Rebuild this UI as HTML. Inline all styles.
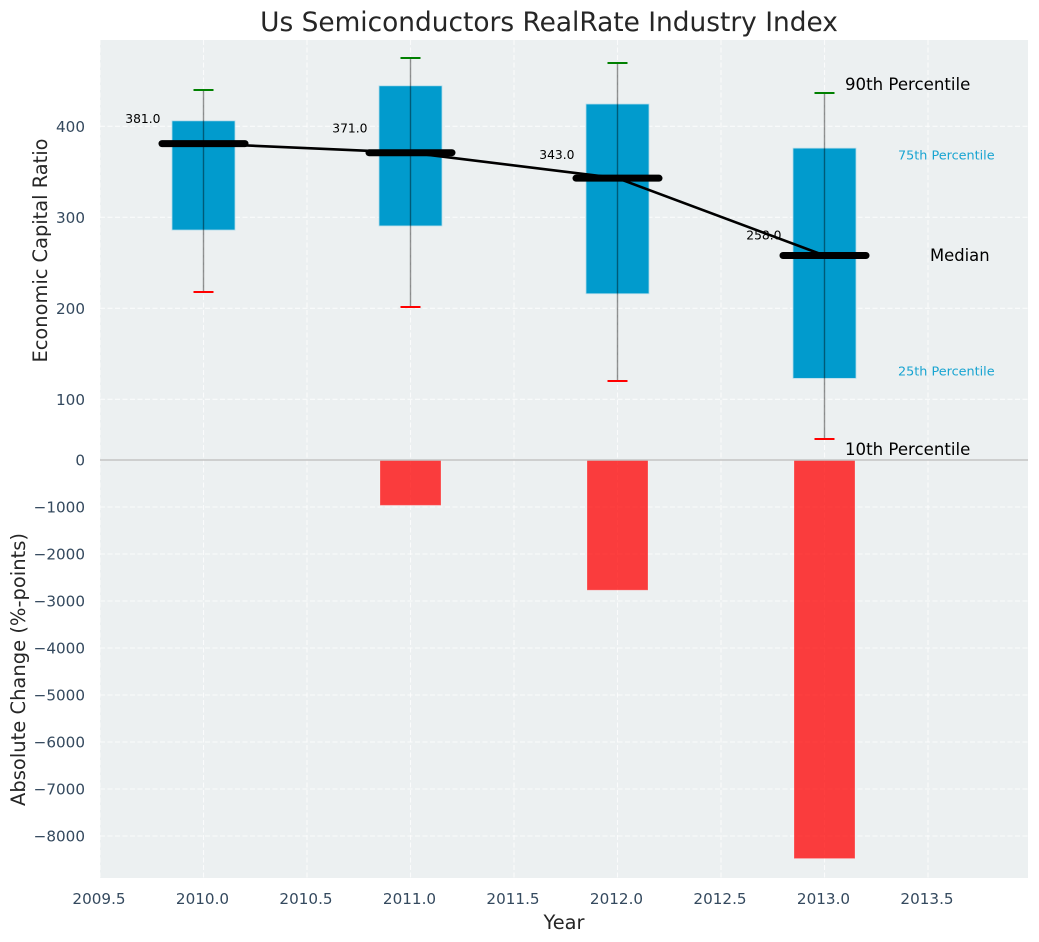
<!DOCTYPE html>
<html>
<head>
<meta charset="utf-8">
<title>Us Semiconductors RealRate Industry Index</title>
<style>
html,body{margin:0;padding:0;background:#fff;width:1039px;height:942px;overflow:hidden}
svg{display:block;font-family:"DejaVu Sans","Liberation Sans",sans-serif}
</style>
</head>
<body>
<svg id="chart" xmlns="http://www.w3.org/2000/svg" width="1039" height="942" viewBox="0 0 1039 942"></svg>
<script>
const years = [2010, 2011, 2012, 2013];
const p90 = [440, 475, 470, 436.5];
const q3 = [406, 444.5, 424.5, 376];
const median = [381, 371, 343, 258];
const q1 = [286, 290.5, 216, 123];
const p10 = [218, 201.5, 120, 56];
const absoluteChange = [0, -965, -2770, -8480];
const xTicks = [2009.5, 2010, 2010.5, 2011, 2011.5, 2012, 2012.5, 2013, 2013.5];
const xTickLabels = ['2009.5', '2010.0', '2010.5', '2011.0', '2011.5', '2012.0', '2012.5', '2013.0', '2013.5'];
const topTicks = [100, 200, 300, 400];
const bottomTicks = [0, -1000, -2000, -3000, -4000, -5000, -6000, -7000, -8000];

const NS = 'http://www.w3.org/2000/svg';
const svg = document.getElementById('chart');
const L = 100, R = 1028, T = 40, M = 460, B = 878;
const x = v => 203.5 + (v - 2010) * 207;
const yTop = v => 126.3 + (400 - v) * 0.91;
const yBot = v => 460 - v * 0.047;

function make(tag, attrs, parent) {
  const el = document.createElementNS(NS, tag);
  for (const k in attrs) el.setAttribute(k, attrs[k]);
  (parent || svg).appendChild(el);
  return el;
}
function label(txt, attrs) {
  const el = make('text', attrs);
  el.textContent = txt;
  return el;
}

const bg1 = make('rect', {x: L, y: T, width: R - L, height: M - T, fill: '#ecf0f1'});


const bg2 = make('rect', {x: L, y: M, width: R - L, height: B - M, fill: '#ecf0f1'});



xTicks.forEach((t, i) => {
  const g = make('line', {x1: x(t), x2: x(t), y1: T, y2: B, stroke: '#fff', 'stroke-width': 1.1, 'stroke-dasharray': '5 2.5', opacity: 0.75});
  
  
  const tl = label(xTickLabels[i], {x: x(t) - 1, y: 904, 'text-anchor': 'middle', 'font-size': 15.2, fill: '#34495e'});
  
  
});
topTicks.forEach(t => {
  const g = make('line', {x1: L, x2: R, y1: yTop(t), y2: yTop(t), stroke: '#fff', 'stroke-width': 1.1, 'stroke-dasharray': '5 2.5', opacity: 0.75});
  
  
  const tl = label(String(t), {x: 85, y: yTop(t) + 5.5, 'text-anchor': 'end', 'font-size': 15.2, fill: '#34495e'});
  
  
});
bottomTicks.forEach(t => {
  if (t !== 0) {
    const g = make('line', {x1: L, x2: R, y1: yBot(t), y2: yBot(t), stroke: '#fff', 'stroke-width': 1.1, 'stroke-dasharray': '5 2.5', opacity: 0.75});
    
    
  }
  const tl = label(t < 0 ? '\u2212' + Math.abs(t) : String(t), {x: 85, y: yBot(t) + 5.5, 'text-anchor': 'end', 'font-size': 15.2, fill: '#34495e'});
  
  
});

years.forEach((yr, i) => {
  const h = yBot(absoluteChange[i]) - M;
  if (h > 0) {
    const bar = make('rect', {x: x(yr) - 30.5, y: M, width: 61, height: h, fill: '#ff0000', 'fill-opacity': 0.75, stroke: '#ffffff', 'stroke-opacity': 0.25, 'stroke-width': 1});
    
    
  }
  const box = make('rect', {x: x(yr) - 31.5, y: yTop(q3[i]), width: 63, height: yTop(q1[i]) - yTop(q3[i]), fill: '#019bcd', stroke: '#b5dcea', 'stroke-width': 0.8});
  
  
  const w = make('line', {x1: x(yr), x2: x(yr), y1: yTop(p90[i]), y2: yTop(p10[i]), stroke: '#000', 'stroke-opacity': 0.42, 'stroke-width': 1.4});
  
  
  const cu = make('line', {x1: x(yr) - 10, x2: x(yr) + 10, y1: Math.round(yTop(p90[i])), y2: Math.round(yTop(p90[i])), stroke: '#008000', 'stroke-width': 2});
  
  
  const cl = make('line', {x1: x(yr) - 10, x2: x(yr) + 10, y1: Math.round(yTop(p10[i])), y2: Math.round(yTop(p10[i])), stroke: '#ff0000', 'stroke-width': 2});
  
  
});

const trend = make('polyline', {points: years.map((yr, i) => x(yr) + ',' + yTop(median[i])).join(' '), fill: 'none', stroke: '#000', 'stroke-width': 2.6});



years.forEach((yr, i) => {
  const m = make('line', {x1: x(yr) - 41.5, x2: x(yr) + 41.5, y1: yTop(median[i]), y2: yTop(median[i]), stroke: '#000', 'stroke-width': 7, 'stroke-linecap': 'round'});
  
  
  const v = label(median[i].toFixed(1), {x: x(yr) - 43, y: yTop(median[i] * 1.044 + 10) + 3.6, 'text-anchor': 'end', 'font-size': 12.3, fill: '#000'});
  
  
});

const zero = make('line', {x1: L, x2: R, y1: M, y2: M, stroke: '#c4c4c4', 'stroke-width': 1.4});



const last = years.length - 1;
const a1 = label('90th Percentile', {x: 845, y: yTop(p90[last]) - 3, 'font-size': 16.6, fill: '#000'});


const a2 = label('75th Percentile', {x: 898, y: yTop(q3[last]) + 11.5, 'font-size': 12.8, fill: '#019bcd', 'fill-opacity': 0.9});


const a3 = label('Median', {x: 930, y: yTop(median[last]) + 5.5, 'font-size': 16.4, fill: '#000'});


const a4 = label('25th Percentile', {x: 898, y: yTop(q1[last]) - 3, 'font-size': 12.8, fill: '#019bcd', 'fill-opacity': 0.9});


const a5 = label('10th Percentile', {x: 845, y: yTop(p10[last]) + 15.5, 'font-size': 16.6, fill: '#000'});



const title = label('Us Semiconductors RealRate Industry Index', {x: 549, y: 31, 'text-anchor': 'middle', 'font-size': 26.4, fill: '#262626'});


const xl = label('Year', {x: 564, y: 929, 'text-anchor': 'middle', 'font-size': 19.4, fill: '#262626'});


const yl1 = label('Economic Capital Ratio', {transform: 'translate(47 250.5) rotate(-90)', 'text-anchor': 'middle', 'font-size': 19.4, fill: '#262626'});


const yl2 = label('Absolute Change (%-points)', {transform: 'translate(25 669.5) rotate(-90)', 'text-anchor': 'middle', 'font-size': 19.5, fill: '#262626'});


</script>
</body>
</html>
